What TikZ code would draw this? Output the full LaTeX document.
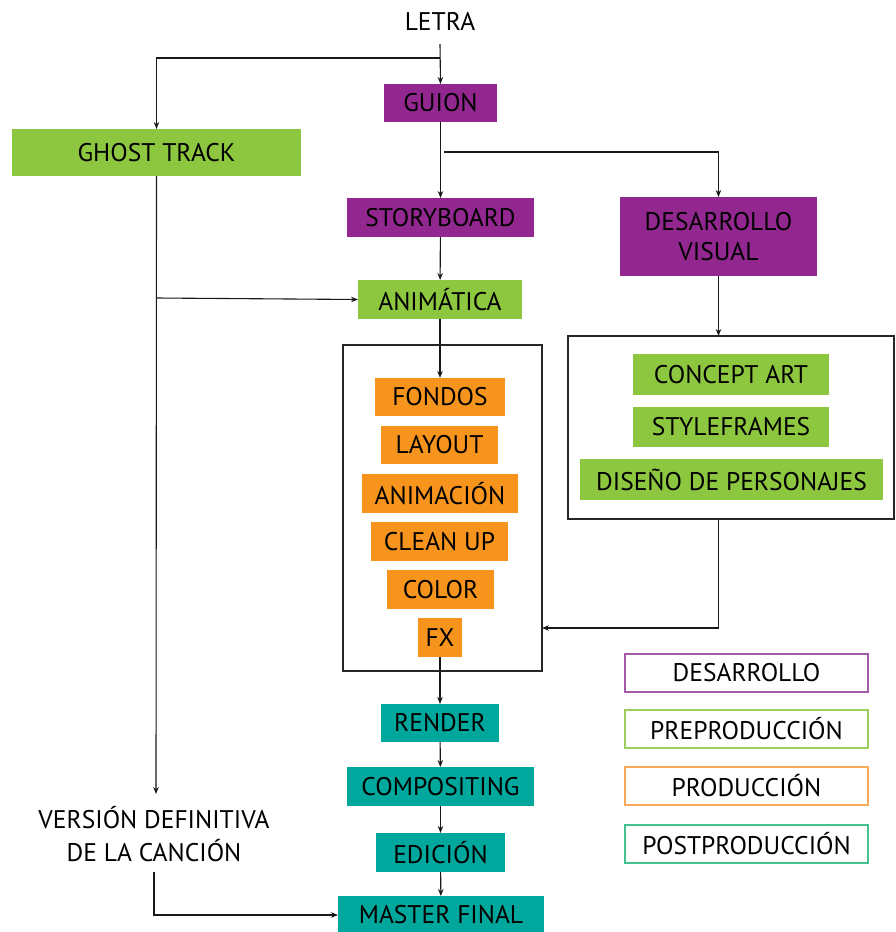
\documentclass[tikz,border=0pt]{standalone}
\usepackage{fontspec}
\setmainfont{PT Sans}
\usetikzlibrary{arrows.meta}
\definecolor{cpurple}{HTML}{92278F}
\definecolor{cgreen}{HTML}{8DC63F}
\definecolor{corange}{HTML}{F7941D}
\definecolor{cteal}{HTML}{00A79D}
\definecolor{lpurple}{HTML}{A35BAA}
\definecolor{lgreen}{HTML}{9DCF5E}
\definecolor{lorange}{HTML}{F8A95C}
\definecolor{lteal}{HTML}{45C08F}
\newcommand\bx[7]{\node[#2, minimum width={(#5-#3)*1pt}, minimum height={(#6-#4)*1pt}] (#1) at ({(#3+#5)/2},{(#4+#6)/2}) {#7};}
\tikzset{
  base/.style={rectangle, inner sep=0pt, outer sep=0pt, align=center, font=\fontsize{25.5}{30}\selectfont, text=black},
  pur/.style={base, fill=cpurple},
  grn/.style={base, fill=cgreen},
  org/.style={base, fill=corange},
  tea/.style={base, fill=cteal},
  frame/.style={base, draw=black!85, line width=1.2pt},
  leg/.style={base, fill=white, line width=1.3pt},
  conn/.style={draw=black!90, line width=1.1pt},
  arr/.style={conn, -{Stealth[length=7pt,width=5.5pt]}},
}
\begin{document}
\begin{tikzpicture}[x=1pt,y=-1pt]
\useasboundingbox (0,0) rectangle (896,932);
% text nodes
\node[base] (letra) at (440,21) {LETRA};
\node[base, align=center, font=\fontsize{25.5}{33}\selectfont] (version) at (154,834) {VERSIÓN DEFINITIVA\\DE LA CANCIÓN};
% frames
\bx{prodbox}{frame}{343}{345}{542}{671}{}
\bx{desbox}{frame}{568}{336}{894}{519}{}
% boxes
\bx{guion}{pur}{384}{84}{497}{122}{GUION}
\bx{ghost}{grn}{12}{129}{301}{176}{GHOST TRACK}
\bx{story}{pur}{347}{198}{534}{237}{STORYBOARD}
\bx{desvis}{pur}{620}{197}{817}{276}{DESARROLLO\\VISUAL}
\bx{anim}{grn}{358}{280}{522}{319}{ANIMÁTICA}
\bx{fondos}{org}{375}{378}{505}{416}{FONDOS}
\bx{layout}{org}{381}{426}{498}{464}{LAYOUT}
\bx{animacion}{org}{362}{474}{518}{513}{ANIMACIÓN}
\bx{clean}{org}{371}{522}{508}{561}{CLEAN UP}
\bx{color}{org}{387}{570}{494}{609}{COLOR}
\bx{fx}{org}{418}{618}{462}{657}{FX}
\bx{concept}{grn}{633}{354}{829}{395}{CONCEPT ART}
\bx{style}{grn}{633}{407}{829}{447}{STYLEFRAMES}
\bx{diseno}{grn}{580}{459}{883}{500}{DISEÑO DE PERSONAJES}
\bx{render}{tea}{381}{704}{499}{742}{RENDER}
\bx{comp}{tea}{347}{767}{534}{806}{COMPOSITING}
\bx{edicion}{tea}{376}{833}{505}{872}{EDICIÓN}
\bx{master}{tea}{338}{896}{544}{934}{MASTER FINAL}
% legend
\bx{lg1}{leg, draw=lpurple}{625}{654}{868}{692}{DESARROLLO}
\bx{lg2}{leg, draw=lgreen}{625}{710}{868}{748}{PREPRODUCCIÓN}
\bx{lg3}{leg, draw=lorange}{625}{767}{868}{805}{PRODUCCIÓN}
\bx{lg4}{leg, draw=lteal}{625}{825}{868}{863}{POSTPRODUCCIÓN}
% coordinates
\coordinate (s0) at (440,44);
\coordinate (j1) at (440,58);
\coordinate (j2) at (444,152);
\coordinate (j3) at (156,298);
\coordinate (j4) at (542,628);
\coordinate (j5) at (718.5,519);
\coordinate (vtop) at (156,794);
\coordinate (vbot) at (154,872);
% connectors
\draw[arr] (s0) -- (guion.north);
\draw[arr] (j1) -| (ghost.north);
\draw[arr] (guion) -- (story);
\draw[arr] (j2) -| (desvis.north);
\draw[arr] (story) -- (anim);
\draw[arr] (ghost.south) -- (vtop);
\draw[arr] (j3) -- (anim.west);
\draw[arr] (anim) -- (fondos);
\draw[arr] (desvis.south) -- (desvis.south |- desbox.north);
\draw[arr] (j5) |- (j4);
\draw[arr] (fx) -- (render);
\draw[arr] (render) -- (comp);
\draw[arr] (comp) -- (edicion);
\draw[arr] (edicion) -- (master);
\draw[arr] (vbot) |- (master.west);
\end{tikzpicture}
\end{document}
